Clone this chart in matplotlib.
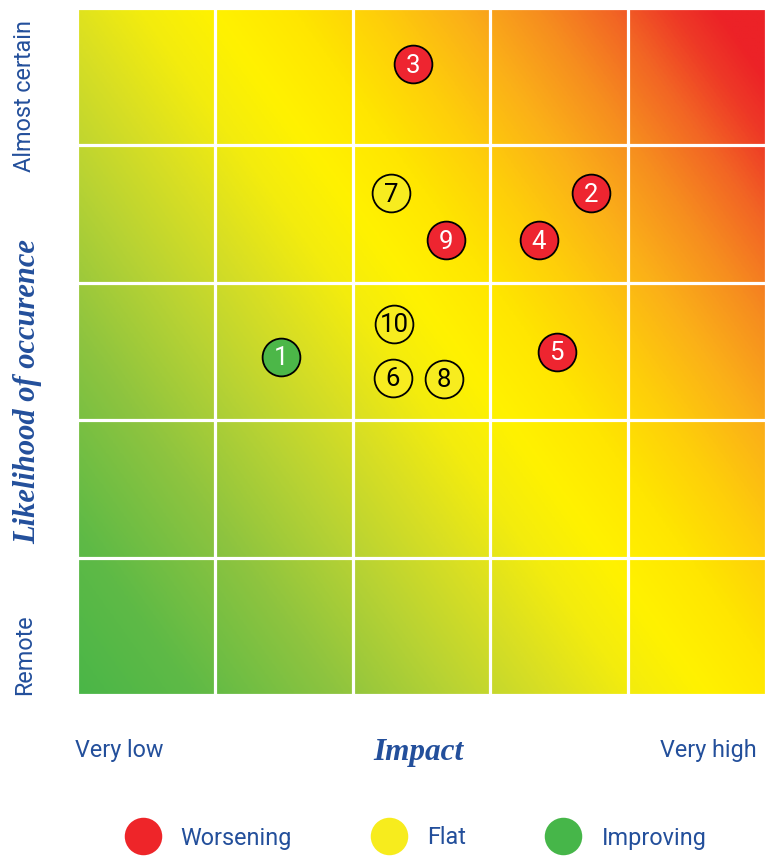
import numpy as np
import matplotlib.pyplot as plt
from matplotlib.colors import LinearSegmentedColormap
from matplotlib.lines import Line2D

# risks: id, impact position, likelihood position, trend
risk_ids = ['1', '2', '3', '4', '5', '6', '7', '8', '9', '10']
impact = [1.48, 3.73, 2.44, 3.35, 3.48, 2.29, 2.28, 2.66, 2.68, 2.30]
likelihood = [2.46, 3.65, 4.59, 3.31, 2.50, 2.31, 3.65, 2.30, 3.31, 2.70]
trend = ['Improving', 'Worsening', 'Worsening', 'Worsening', 'Worsening',
         'Flat', 'Flat', 'Flat', 'Worsening', 'Flat']

trend_names = ['Worsening', 'Flat', 'Improving']
trend_colors = {'Worsening': '#ee2530', 'Flat': '#f7ec1f', 'Improving': '#4cb748'}
legend_colors = {'Worsening': '#ee2529', 'Flat': '#f7ec1d', 'Improving': '#46b649'}
text_colors = {'Worsening': 'white', 'Flat': 'black', 'Improving': 'white'}

x_labels = ['Very low', 'Very high']
y_labels = ['Remote', 'Almost certain']
n = 5
blue = '#234f9b'

heat = LinearSegmentedColormap.from_list('risk', [
    (0.00, '#4ab648'), (0.10, '#5fba46'), (0.22, '#8ec43f'),
    (0.32, '#b9d333'), (0.40, '#d9df23'), (0.47, '#f3ec0e'),
    (0.53, '#fff200'), (0.60, '#ffe600'), (0.67, '#fece0a'),
    (0.74, '#fbb018'), (0.81, '#f68c1f'), (0.87, '#f26524'),
    (0.92, '#ee3a26'), (0.96, '#ec2227'), (1.00, '#ec2227')])

fig = plt.figure(figsize=(7.65, 8.6), dpi=100)
ax = fig.add_axes([77 / 765, 165 / 860, 689 / 765, 687 / 860])

# gradient tilted a little: impact weighs more than likelihood
g = np.linspace(0, n, 500)
gx, gy = np.meshgrid(g, g)
ax.imshow((1.39 * gx + gy) / (2.39 * n), cmap=heat, vmin=0, vmax=1,
          origin='lower', extent=(0, n, 0, n), aspect='auto',
          interpolation='bilinear')

for k in range(n + 1):
    ax.axvline(k, color='white', lw=2.3, clip_on=False)
    ax.axhline(k, color='white', lw=2.3, clip_on=False)

for rid, xi, yi, tr in zip(risk_ids, impact, likelihood, trend):
    ax.scatter(xi, yi, s=740, color=trend_colors[tr], edgecolor='black',
               linewidth=1.3, zorder=3)
    ax.text(xi, yi - 0.01, rid, ha='center', va='center', fontsize=18.5,
            family='Roboto', color=text_colors[tr], zorder=4)

ax.set_xlim(0, n)
ax.set_ylim(0, n)
ax.axis('off')

lab = dict(color=blue, fontsize=16.8, family='Roboto', clip_on=False)
ax.text(-0.378, 0.0, y_labels[0], rotation=90, ha='center', va='bottom', **lab)
ax.text(-0.378, 4.91, y_labels[1], rotation=90, ha='center', va='top', **lab)
ax.text(-0.015, -0.405, x_labels[0], ha='left', va='center', **lab)
ax.text(4.93, -0.405, x_labels[1], ha='right', va='center', **lab)

ax.text(-0.36, 2.21, 'Likelihood of occurence', rotation=90, ha='center',
        va='center', color=blue, fontsize=22, family='Liberation Serif',
        weight='bold', style='italic')
ax.text(2.48, -0.415, 'Impact', ha='center', va='center', color=blue,
        fontsize=22.5, family='Liberation Serif', weight='bold', style='italic')

handles = [Line2D([], [], marker='o', ls='', markersize=27,
                  markerfacecolor=legend_colors[t], markeredgewidth=0)
           for t in trend_names]
leg = fig.legend(handles, trend_names, loc='center', ncol=3,
                 bbox_to_anchor=(0.543, 22 / 860), frameon=False,
                 prop={'family': 'Roboto', 'size': 16.8},
                 handlelength=1.55, handletextpad=0.85, columnspacing=3.4)
for t in leg.get_texts():
    t.set_color(blue)

fig.savefig('out.png', dpi=100)
